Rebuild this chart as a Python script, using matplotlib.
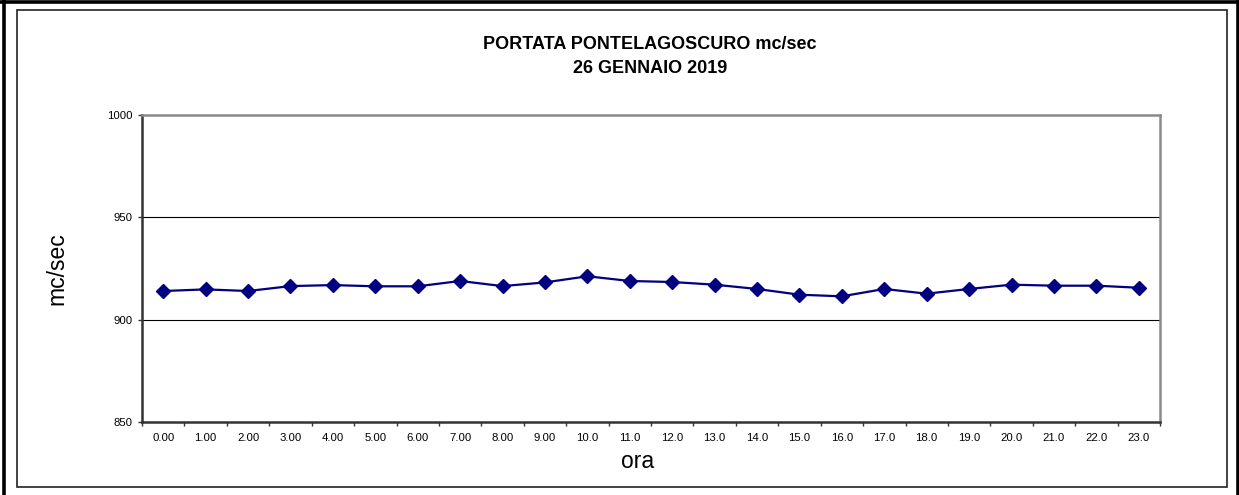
import matplotlib.pyplot as plt
from matplotlib.patches import Rectangle
from matplotlib.lines import Line2D

# ===== Data =====
hours = ["0.00", "1.00", "2.00", "3.00", "4.00", "5.00", "6.00", "7.00",
         "8.00", "9.00", "10.0", "11.0", "12.0", "13.0", "14.0", "15.0",
         "16.0", "17.0", "18.0", "19.0", "20.0", "21.0", "22.0", "23.0"]
portata = [914.0, 914.8, 914.0, 916.4, 916.9, 916.3, 916.3, 918.9,
           916.4, 918.2, 921.2, 918.9, 918.4, 917.1, 915.0, 912.2,
           911.4, 915.0, 912.7, 915.0, 917.1, 916.6, 916.6, 915.6]
y_ticks = [850, 900, 950, 1000]

title_text = "PORTATA PONTELAGOSCURO mc/sec\n26 GENNAIO 2019"
font_name = "Liberation Sans"
plt.rcParams['font.family'] = [font_name, 'DejaVu Sans']

W, H = 1239, 495
fig = plt.figure(figsize=(W / 100, H / 100), dpi=100)

# ===== Frames (outer thick, inner thin) =====
fig.add_artist(Line2D([3.5 / W, 3.5 / W], [0, 1], color="black", lw=2.6,
                      transform=fig.transFigure))
fig.add_artist(Line2D([1237.5 / W, 1237.5 / W], [0, 1], color="black", lw=2.6,
                      transform=fig.transFigure))
fig.add_artist(Line2D([0, 1], [1 - 1.5 / H, 1 - 1.5 / H], color="black", lw=2.6,
                      transform=fig.transFigure))
fig.add_artist(Rectangle((16.5 / W, 1 - 487 / H), 1210 / W, 477 / H,
                         fill=False, edgecolor="#222222", lw=1.2,
                         transform=fig.transFigure))

# ===== Axes =====
ax = fig.add_axes([142 / W, 1 - 422 / H, 1018 / W, 307 / H])
x = list(range(len(hours)))
ax.plot(x, portata, '-D', color="#000080", linewidth=1.6,
        markersize=7.3, markerfacecolor="#000080", markeredgecolor="#000080",
        zorder=3)

ax.set_xlim(-0.5, len(hours) - 0.5)
ax.set_ylim(850, 1000)

# category labels centred, tick marks on boundaries
ax.set_xticks(x)
ax.set_xticklabels(hours, fontsize=8.2)
ax.set_xticks([i - 0.5 for i in range(len(hours) + 1)], minor=True)
ax.tick_params(axis='x', which='major', length=0, pad=8)
ax.tick_params(axis='x', which='minor', length=3, width=1, color="#333333")

ax.set_yticks(y_ticks)
ax.set_yticklabels([str(v) for v in y_ticks], fontsize=8.2)
ax.tick_params(axis='y', length=3, width=1, color="#333333", pad=4)

# gridlines
for v in y_ticks[1:-1]:
    ax.axhline(v, color="black", lw=0.8, zorder=1)

# spines
ax.spines['left'].set_color("#333333")
ax.spines['bottom'].set_color("#333333")
ax.spines['top'].set_color("#8a8a8a")
ax.spines['right'].set_color("#8a8a8a")
for spine in ax.spines.values():
    spine.set_linewidth(1.8)

# ===== Labels =====
ax.set_ylabel("mc/sec", fontsize=16.5)
ax.yaxis.set_label_coords((68 - 142) / 1018, 0.5)
ax.set_xlabel("ora", fontsize=16.5)
ax.xaxis.set_label_coords((638 - 142) / 1018, -(450 - 422) / 307)

fig.text(650 / W, 1 - 56.5 / H, title_text, ha="center", va="center",
         fontsize=13, fontweight="bold", linespacing=1.5)

plt.savefig("out.png", dpi=100)
